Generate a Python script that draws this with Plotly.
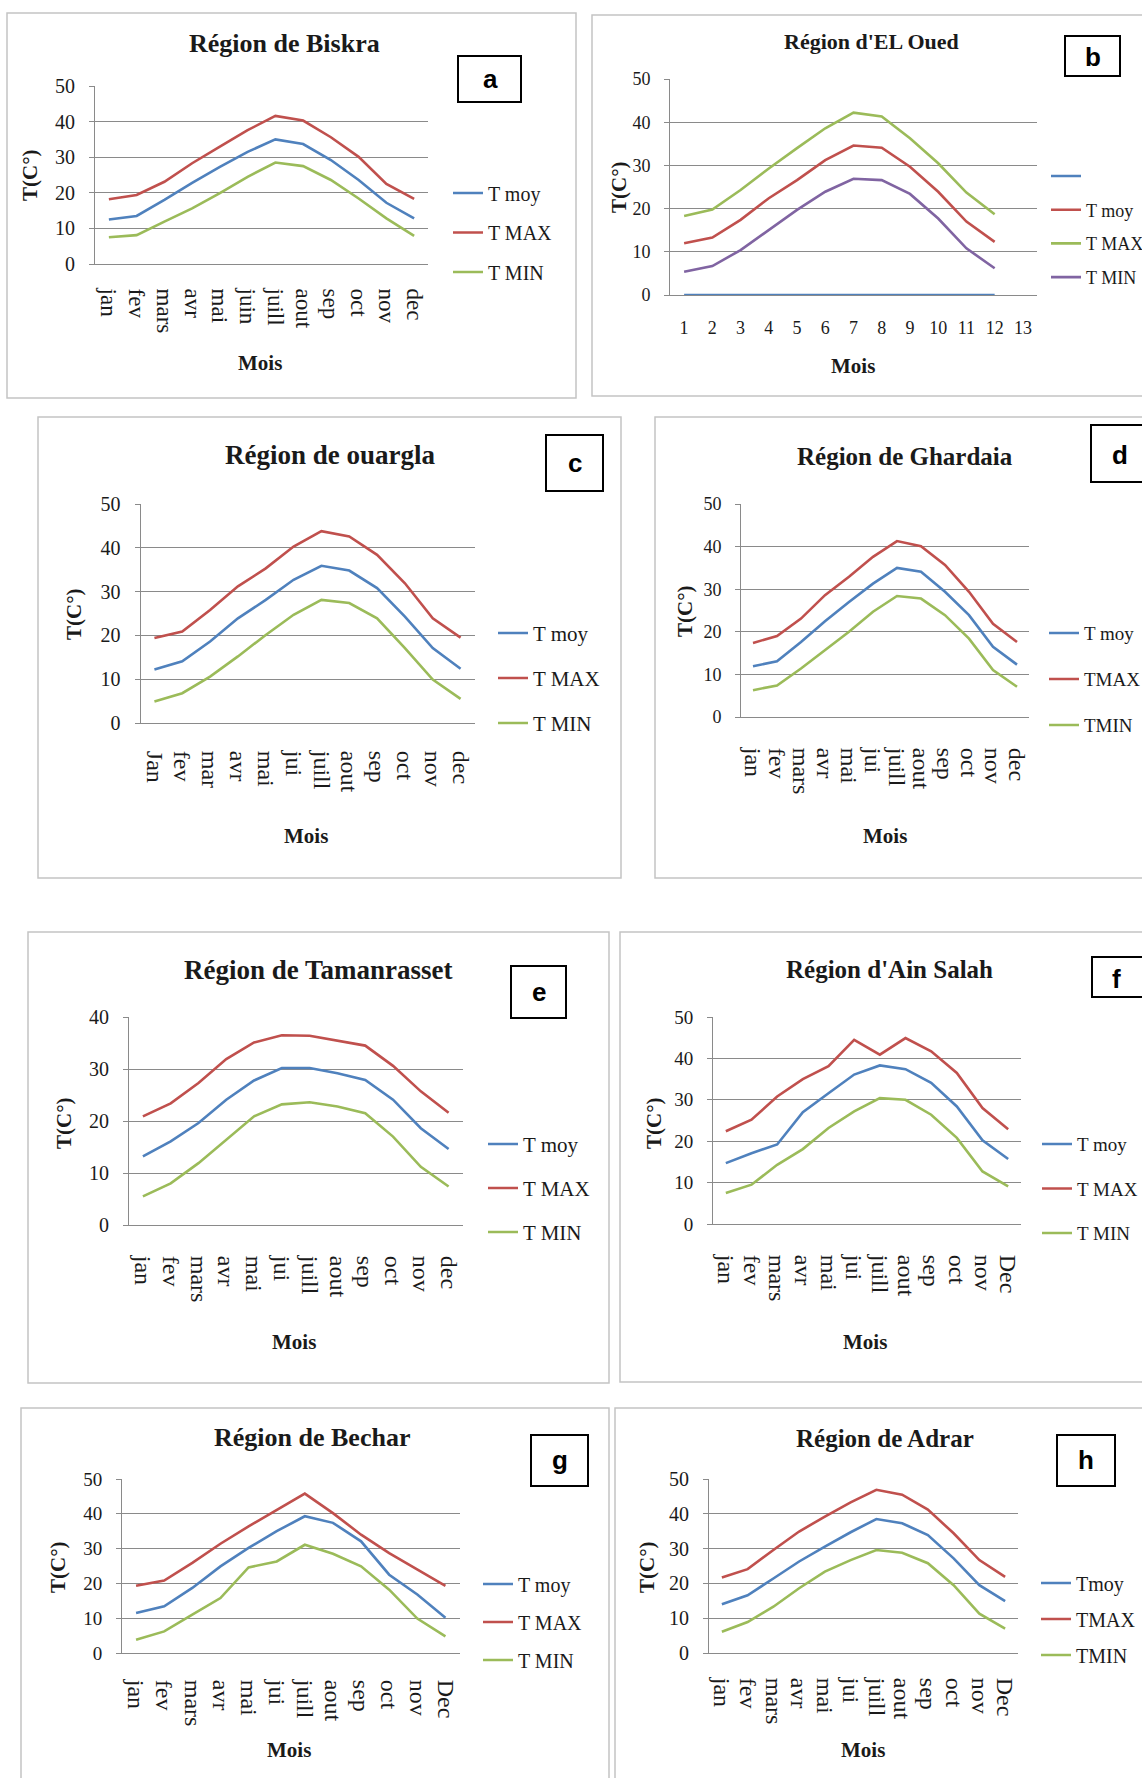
import plotly.graph_objects as go

W, H = 1142, 1778

# ---------------- data ----------------
months_biskra = ["jan", "fev", "mars", "avr", "mai", "juin", "juill", "aout", "sep", "oct", "nov", "dec"]
biskra_moy = [12.5, 13.5, 18.0, 22.8, 27.3, 31.5, 35.0, 33.7, 29.2, 23.6, 17.2, 12.8]
biskra_max = [18.2, 19.4, 23.1, 28.3, 33.0, 37.6, 41.6, 40.3, 35.6, 30.1, 22.5, 18.3]
biskra_min = [7.5, 8.1, 11.9, 15.6, 19.9, 24.5, 28.5, 27.5, 23.6, 18.4, 12.8, 7.9]

months_eloued = ["1", "2", "3", "4", "5", "6", "7", "8", "9", "10", "11", "12", "13"]
eloued_blank = [0, 0, 0, 0, 0, 0, 0, 0, 0, 0, 0, 0]
eloued_moy = [12.0, 13.3, 17.4, 22.4, 26.6, 31.2, 34.6, 34.1, 29.7, 23.9, 17.0, 12.3]
eloued_max = [18.3, 19.8, 24.3, 29.3, 34.0, 38.6, 42.2, 41.3, 36.3, 30.5, 23.7, 18.7]
eloued_min = [5.4, 6.7, 10.4, 15.0, 19.7, 23.9, 26.9, 26.6, 23.4, 17.7, 10.8, 6.2]

months_ouargla = ["Jan", "fev", "mar", "avr", "mai", "jui", "juill", "aout", "sep", "oct", "nov", "dec"]
ouargla_moy = [12.2, 14.1, 18.6, 23.9, 28.1, 32.7, 35.9, 34.8, 30.8, 24.3, 17.1, 12.4]
ouargla_max = [19.4, 20.9, 25.8, 31.2, 35.3, 40.3, 43.8, 42.6, 38.4, 31.9, 23.9, 19.5]
ouargla_min = [4.9, 6.8, 10.6, 15.2, 20.1, 24.7, 28.1, 27.4, 23.9, 17.1, 9.9, 5.5]

months_ghardaia = ["jan", "fev", "mars", "avr", "mai", "jui", "juill", "aout", "sep", "oct", "nov", "dec"]
ghardaia_moy = [11.9, 13.1, 17.6, 22.5, 27.0, 31.3, 35.0, 34.1, 29.4, 23.9, 16.5, 12.3]
ghardaia_max = [17.4, 19.0, 23.1, 28.6, 32.9, 37.6, 41.3, 40.1, 35.7, 29.4, 21.9, 17.6]
ghardaia_min = [6.3, 7.4, 11.4, 15.7, 20.0, 24.7, 28.4, 27.8, 23.9, 18.4, 11.0, 7.1]

months_tam = ["jan", "fev", "mars", "avr", "mai", "jui", "juill", "aout", "sep", "oct", "nov", "dec"]
tam_moy = [13.2, 16.1, 19.6, 24.1, 27.8, 30.2, 30.2, 29.2, 27.9, 24.1, 18.6, 14.6]
tam_max = [20.9, 23.4, 27.3, 31.9, 35.1, 36.5, 36.4, 35.5, 34.5, 30.6, 25.7, 21.6]
tam_min = [5.5, 8.0, 11.9, 16.4, 20.9, 23.2, 23.6, 22.8, 21.5, 17.0, 11.2, 7.4]

months_ainsalah = ["jan", "fev", "mars", "avr", "mai", "jui", "juill", "aout", "sep", "oct", "nov", "Dec"]
ainsalah_moy = [14.7, 17.1, 19.2, 27.0, 31.6, 36.1, 38.3, 37.4, 34.1, 28.4, 20.2, 15.7]
ainsalah_max = [22.4, 25.2, 30.8, 35.0, 38.1, 44.5, 40.9, 44.9, 41.7, 36.5, 28.0, 22.9]
ainsalah_min = [7.5, 9.5, 14.3, 18.1, 23.2, 27.2, 30.4, 30.0, 26.4, 20.8, 12.7, 9.1]

months_bechar = ["jan", "fev", "mars", "avr", "mai", "jui", "juill", "aout", "sep", "oct", "nov", "Dec"]
bechar_moy = [11.5, 13.4, 18.7, 24.9, 30.2, 35.0, 39.3, 37.4, 32.1, 22.5, 16.8, 10.1]
bechar_max = [19.3, 20.8, 25.9, 31.4, 36.4, 41.2, 45.8, 40.2, 34.0, 28.7, 23.9, 19.3]
bechar_min = [3.8, 6.2, 11.0, 15.8, 24.6, 26.3, 31.1, 28.5, 24.9, 18.2, 9.9, 4.8]

months_adrar = ["jan", "fev", "mars", "avr", "mai", "jui", "juill", "aout", "sep", "oct", "nov", "Dec"]
adrar_moy = [14.0, 16.6, 21.4, 26.3, 30.6, 34.7, 38.5, 37.3, 33.9, 27.2, 19.5, 14.9]
adrar_max = [21.7, 24.1, 29.6, 34.9, 39.2, 43.3, 46.9, 45.5, 41.2, 34.4, 26.7, 21.9]
adrar_min = [6.1, 8.9, 13.3, 18.6, 23.4, 26.7, 29.6, 28.8, 25.8, 19.5, 11.3, 7.0]

titles = ["Région de Biskra", "Région d'EL Oued", "Région de ouargla", "Région de Ghardaia",
          "Région de Tamanrasset", "Région d'Ain Salah", "Région de Bechar", "Région de Adrar"]
letters = ["a", "b", "c", "d", "e", "f", "g", "h"]
y_title = "T(C°)"
x_title = "Mois"

BLUE, RED, GREEN, PURPLE = "#4F81BD", "#C0504D", "#9BBB59", "#8064A2"

panels = [
    dict(cats=months_biskra, series=[biskra_moy, biskra_max, biskra_min],
         names=["T moy", "T MAX", "T MIN"], colors=[BLUE, RED, GREEN]),
    dict(cats=months_eloued, series=[eloued_blank, eloued_moy, eloued_max, eloued_min],
         names=[" ", "T moy", "T MAX", "T MIN"], colors=[BLUE, RED, GREEN, PURPLE]),
    dict(cats=months_ouargla, series=[ouargla_moy, ouargla_max, ouargla_min],
         names=["T moy", "T MAX", "T MIN"], colors=[BLUE, RED, GREEN]),
    dict(cats=months_ghardaia, series=[ghardaia_moy, ghardaia_max, ghardaia_min],
         names=["T moy", "TMAX", "TMIN"], colors=[BLUE, RED, GREEN]),
    dict(cats=months_tam, series=[tam_moy, tam_max, tam_min],
         names=["T moy", "T MAX", "T MIN"], colors=[BLUE, RED, GREEN]),
    dict(cats=months_ainsalah, series=[ainsalah_moy, ainsalah_max, ainsalah_min],
         names=["T moy", "T MAX", "T MIN"], colors=[BLUE, RED, GREEN]),
    dict(cats=months_bechar, series=[bechar_moy, bechar_max, bechar_min],
         names=["T moy", "T MAX", "T MIN"], colors=[BLUE, RED, GREEN]),
    dict(cats=months_adrar, series=[adrar_moy, adrar_max, adrar_min],
         names=["Tmoy", "TMAX", "TMIN"], colors=[BLUE, RED, GREEN]),
]

# ---------------- layout geometry (pixels) ----------------
geom = [
    dict(px=(95, 428), py=(86, 264), ymax=50, border=(7, 13, 576, 398), title=(284, 43, 26),
         box=(458, 56, 521, 102), let=(490, 79), ytl=(30, 175), mois=(260, 363),
         leg=(453, 193, 39.5, 20), tick=20, xtick=23, xso=19, angle=90),
    dict(px=(670, 1037), py=(79, 295), ymax=50, border=(592, 15, 1160, 396), title=(871, 42, 22),
         box=(1065, 36, 1120, 76), let=(1093, 57), ytl=(619, 187), mois=(853, 366),
         leg=(1051, 176, 33.7, 18), tick=18, xtick=18, xso=16, angle=0),
    dict(px=(140.5, 474.5), py=(504, 723), ymax=50, border=(38, 417, 621, 878), title=(330, 455, 27),
         box=(546, 435, 603, 491), let=(575, 463), ytl=(74, 614), mois=(306, 836),
         leg=(498, 633, 45, 21), tick=20, xtick=24, xso=22, angle=90),
    dict(px=(741, 1029), py=(504, 717), ymax=50, border=(655, 417, 1160, 878), title=(905, 457, 25),
         box=(1091, 425, 1150, 482), let=(1120, 455), ytl=(685, 611), mois=(885, 836),
         leg=(1049, 633, 46, 19), tick=18, xtick=24, xso=25, angle=90),
    dict(px=(129, 462.5), py=(1017, 1225), ymax=40, border=(28, 932, 609, 1383), title=(318, 970, 27),
         box=(511, 966, 566, 1018), let=(539, 992), ytl=(64, 1123), mois=(294, 1342),
         leg=(488, 1144, 44, 21), tick=20, xtick=24, xso=25, angle=90),
    dict(px=(713, 1021), py=(1017, 1224), ymax=50, border=(620, 932, 1160, 1382), title=(889, 970, 25),
         box=(1092, 957, 1160, 997), let=(1116, 979), ytl=(654, 1123), mois=(865, 1342),
         leg=(1042, 1144, 44.5, 19), tick=19, xtick=24, xso=25, angle=90),
    dict(px=(122, 459.5), py=(1479, 1653), ymax=50, border=(21, 1408, 609, 1800), title=(312, 1437, 26),
         box=(531, 1435, 588, 1486), let=(560, 1460), ytl=(58, 1567), mois=(289, 1750),
         leg=(483, 1584, 38, 20), tick=19, xtick=24, xso=21, angle=90),
    dict(px=(709, 1018), py=(1479, 1653), ymax=50, border=(615, 1408, 1160, 1800), title=(885, 1438, 25),
         box=(1057, 1435, 1115, 1486), let=(1086, 1460), ytl=(647, 1567), mois=(863, 1750),
         leg=(1041, 1583, 36, 20), tick=20, xtick=24, xso=19, angle=90),
]

SERIF = "Liberation Serif, Times New Roman, serif"
SANS = "Liberation Sans, Arial, sans-serif"
TXT = "#1a1a1a"
GRID = "#8a8a8a"


def fx(p):
    return p / W


def fy(p):
    return 1 - p / H


fig = go.Figure()
layout = dict(width=W, height=H, margin=dict(l=0, r=0, t=0, b=0, autoexpand=False),
              paper_bgcolor="white", plot_bgcolor="white", showlegend=True)
annotations = []
shapes = []

for i, (pn, g) in enumerate(zip(panels, geom), start=1):
    sfx = "" if i == 1 else str(i)
    legname = "legend" + sfx
    n = len(pn["cats"])
    for k, (vals, name, col) in enumerate(zip(pn["series"], pn["names"], pn["colors"])):
        fig.add_trace(go.Scatter(
            x=list(range(len(vals))), y=vals, mode="lines", name=name,
            line=dict(color=col, width=2.6), legend=legname,
            legendgroup=f"p{i}s{k}", xaxis="x" + sfx, yaxis="y" + sfx,
            hoverinfo="skip"))

    layout["xaxis" + sfx] = dict(
        domain=[fx(g["px"][0]), fx(g["px"][1])], anchor="y" + sfx,
        range=[-0.5, n - 0.5], tickmode="array", tickvals=list(range(n)), ticktext=pn["cats"],
        tickangle=g["angle"], showgrid=False, zeroline=False, showline=True,
        linecolor=GRID, linewidth=1, ticks="", ticklabelstandoff=g["xso"],
        tickfont=dict(family=SERIF, size=g["xtick"], color=TXT), fixedrange=True)
    layout["yaxis" + sfx] = dict(
        domain=[fy(g["py"][1]), fy(g["py"][0])], anchor="x" + sfx,
        range=[0, g["ymax"]], dtick=10, tick0=0, showgrid=True, gridcolor=GRID, gridwidth=1,
        zeroline=False, showline=True, linecolor=GRID, linewidth=1,
        ticks="outside", ticklen=5, tickcolor=GRID, ticklabelstandoff=10,
        tickfont=dict(family=SERIF, size=g["tick"], color=TXT), fixedrange=True)

    lx, lc, lsp, lf = g["leg"]
    h_item = 1.3 * lf + 3
    layout[legname] = dict(
        x=fx(lx - 5), xanchor="left", y=fy(lc - 5 - h_item / 2), yanchor="top",
        font=dict(family=SERIF, size=lf, color=TXT), bgcolor="rgba(0,0,0,0)",
        borderwidth=0, tracegroupgap=max(lsp - h_item, 0), itemwidth=30,
        traceorder="grouped")

    # panel frame
    bx0, by0, bx1, by1 = g["border"]
    shapes.append(dict(type="rect", xref="paper", yref="paper",
                       x0=fx(bx0), x1=fx(bx1), y0=fy(by1), y1=fy(by0),
                       line=dict(color="#c4c4c4", width=1.5), layer="below"))
    # letter box
    qx0, qy0, qx1, qy1 = g["box"]
    shapes.append(dict(type="rect", xref="paper", yref="paper",
                       x0=fx(qx0), x1=fx(qx1), y0=fy(qy1), y1=fy(qy0),
                       line=dict(color="black", width=2)))
    annotations.append(dict(text=f"<b>{letters[i-1]}</b>", x=fx(g["let"][0]), y=fy(g["let"][1]),
                            xref="paper", yref="paper", xanchor="center", yanchor="middle",
                            showarrow=False, font=dict(family=SANS, size=26, color="black")))
    # title
    tx, ty, ts = g["title"]
    annotations.append(dict(text=f"<b>{titles[i-1]}</b>", x=fx(tx), y=fy(ty),
                            xref="paper", yref="paper", xanchor="center", yanchor="middle",
                            showarrow=False, font=dict(family=SERIF, size=ts, color=TXT)))
    # y title
    annotations.append(dict(text=f"<b>{y_title}</b>", x=fx(g["ytl"][0]), y=fy(g["ytl"][1]),
                            xref="paper", yref="paper", xanchor="center", yanchor="middle",
                            textangle=-90, showarrow=False,
                            font=dict(family=SERIF, size=21, color=TXT)))
    # x title
    annotations.append(dict(text=f"<b>{x_title}</b>", x=fx(g["mois"][0]), y=fy(g["mois"][1]),
                            xref="paper", yref="paper", xanchor="center", yanchor="middle",
                            showarrow=False, font=dict(family=SERIF, size=21, color=TXT)))

layout["annotations"] = annotations
layout["shapes"] = shapes
fig.update_layout(**layout)
fig.write_html("out.html")
